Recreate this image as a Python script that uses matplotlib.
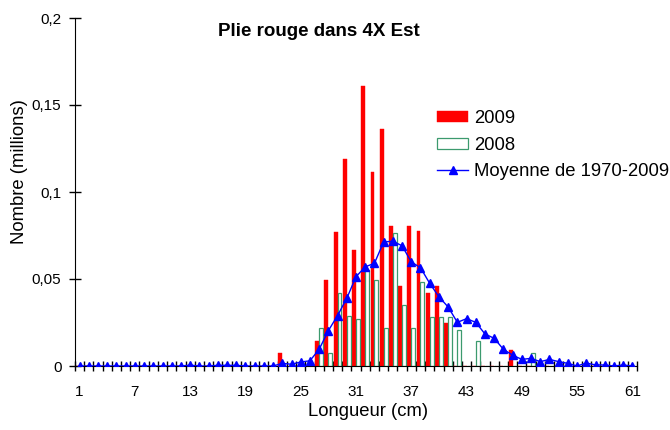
import matplotlib
matplotlib.use("Agg")
import matplotlib.pyplot as plt
import numpy as np

plt.rcParams['font.family'] = ['Liberation Sans', 'DejaVu Sans']

lengths = list(range(1, 62))

# 2009 values (millions) by length 1..61
red_2009 = [0]*22 + [0.0073, 0, 0, 0, 0.0144, 0.0494, 0.077, 0.119, 0.0667, 0.161,
                     0.1117, 0.136, 0.0805, 0.046, 0.0806, 0.0776, 0.042, 0.046, 0.0247,
                     0, 0, 0, 0, 0, 0, 0.0092] + [0]*13
# 2008 values
green_2008 = [0]*26 + [0.0218, 0.0073, 0.042, 0.0287, 0.0272, 0.055, 0.0494, 0.0218,
                       0.0764, 0.0349, 0.0218, 0.0485, 0.028, 0.0284, 0.0284, 0.0207,
                       0, 0.0142, 0, 0, 0, 0, 0, 0.0073] + [0]*11
# mean 1970-2009
mean_70_09 = [0, 0, 0, 0, 0, 0, 0, 0, 0, 0, 0, 0, 0.0005, 0, 0, 0.0004, 0.0004, 0.0004,
              0, 0, 0, 0, 0.0015, 0.001, 0.0023, 0.003, 0.0096, 0.0203, 0.029, 0.0389,
              0.0513, 0.057, 0.059, 0.0713, 0.0717, 0.0691, 0.0598, 0.0565, 0.0475,
              0.0398, 0.0339, 0.0251, 0.0272, 0.0251, 0.0184, 0.0159, 0.0096, 0.0062,
              0.0038, 0.0044, 0.0025, 0.0038, 0.0025, 0.0015, 0, 0.0017, 0.0006,
              0.0006, 0, 0.0006, 0]

xtick_labels = [1, 7, 13, 19, 25, 31, 37, 43, 49, 55, 61]
ytick_vals = [0, 0.05, 0.1, 0.15, 0.2]
ytick_text = ['0', '0,05', '0,1', '0,15', '0,2']

fig = plt.figure(figsize=(6.7, 4.3), dpi=100)
ax = fig.add_axes([75/670, 64/430, (637-75)/670, (366-18)/430])

x = np.array(lengths, dtype=float)
w = 0.42
h_red = ax.bar(x - w/2, red_2009, width=w, color='#FF0000', edgecolor='#FF0000',
               linewidth=0.3, label='2009', zorder=2)
h_green = ax.bar(x + w/2, green_2008, width=w, color='white', edgecolor='#3C9A6E',
                 linewidth=0.9, label='2008', zorder=2)
h_line, = ax.plot(x, mean_70_09, color='#0000FF', linewidth=1.0, marker='^', markersize=6,
                  markerfacecolor='#0000FF', markeredgecolor='#0000FF',
                  label='Moyenne de 1970-2009', zorder=3)

ax.set_xlim(0.5, 61.5)
ax.set_ylim(0, 0.2)
ax.spines['top'].set_visible(False)
ax.spines['right'].set_visible(False)

ax.set_xticks(xtick_labels)
ax.set_xticklabels([str(v) for v in xtick_labels], fontsize=11)
ax.tick_params(axis='x', which='major', length=0, pad=14)
ax.set_xticks(np.arange(0.5, 62, 1.0), minor=True)
ax.tick_params(axis='x', which='minor', direction='inout', length=7, width=1, color='black')

ax.set_yticks(ytick_vals)
ax.set_yticklabels(ytick_text, fontsize=11)
ax.tick_params(axis='y', which='major', direction='inout', length=8.6, width=1, pad=5.5)

fig.text(20/670, 1 - 172/430, 'Nombre (millions)', fontsize=13.3, rotation=90,
         ha='center', va='center')
fig.text(368/670, 1 - 412/430, 'Longueur (cm)', fontsize=13.3, ha='center', va='center')
fig.text(319/670, 1 - 31/430, 'Plie rouge dans 4X Est', fontsize=13.5, fontweight='bold',
         ha='center', va='center')

fig.legend(handles=[h_red, h_green, h_line], loc='upper left',
           bbox_to_anchor=(437/670, 1 - 110/430), frameon=False,
           fontsize=13.3, handlelength=1.68, handleheight=0.55, labelspacing=0.52,
           handletextpad=0.32, borderpad=0.0, borderaxespad=0.0)

fig.savefig('out.png', dpi=100)
